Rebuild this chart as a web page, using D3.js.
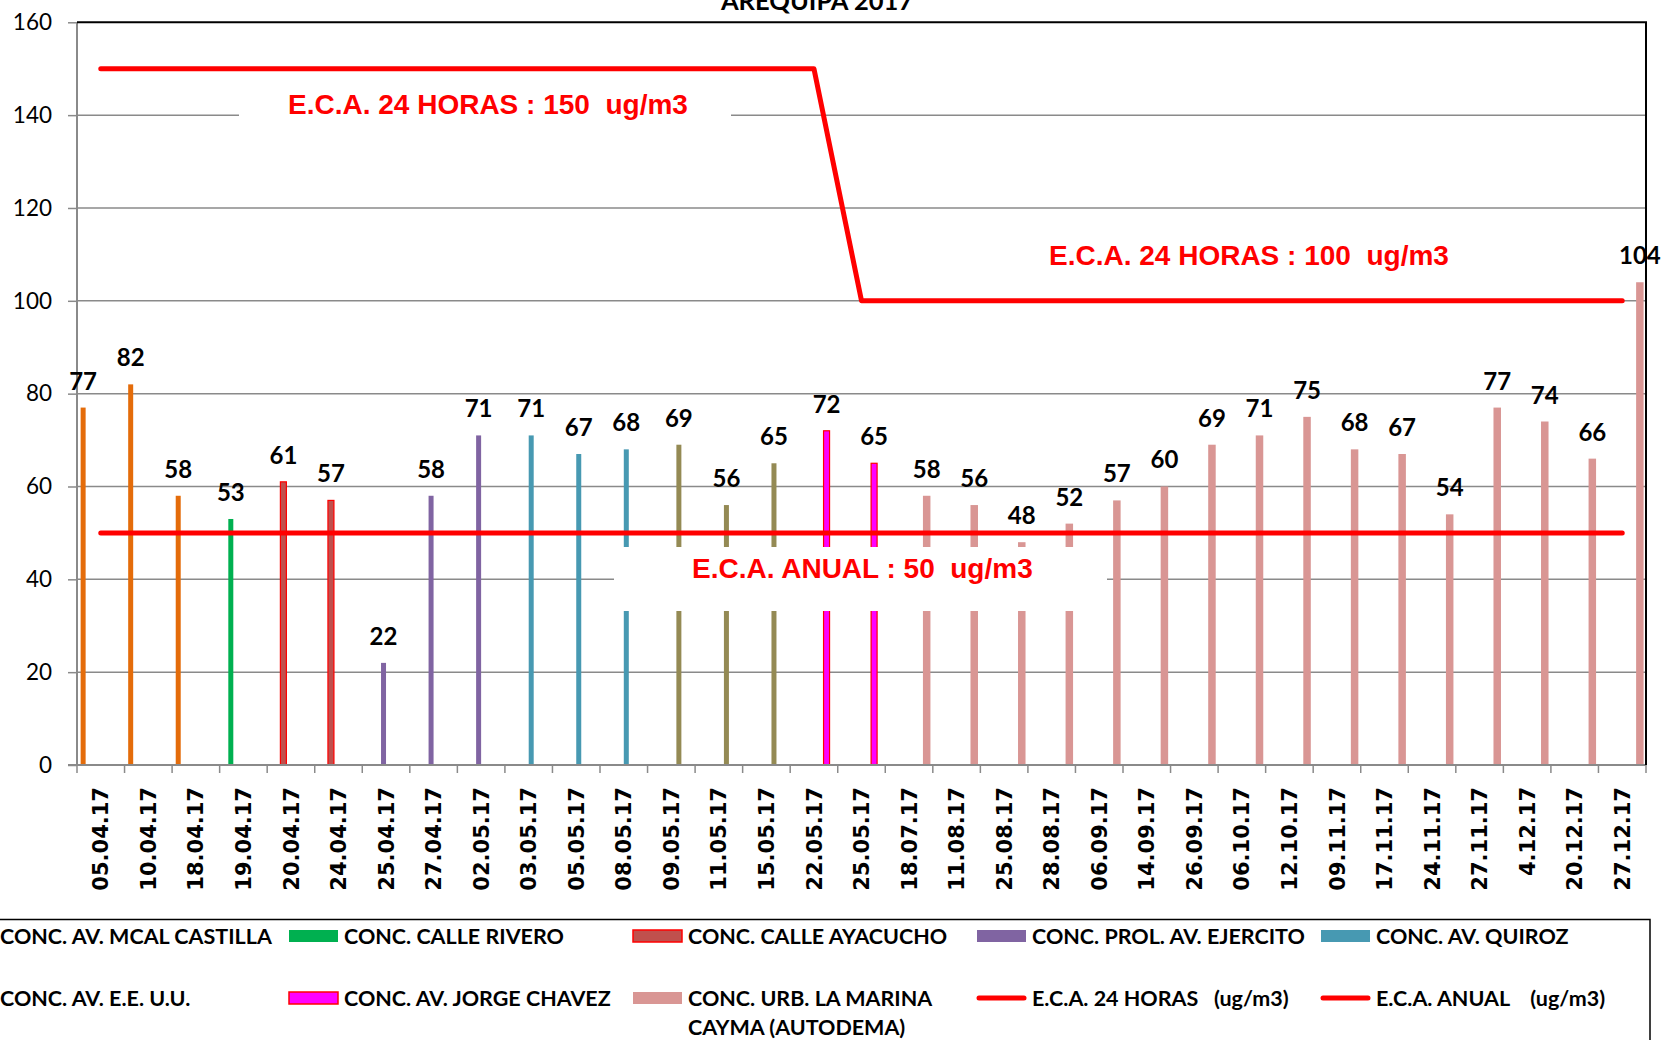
<!DOCTYPE html>
<meta charset="utf-8">
<script src="https://d3js.org/d3.v7.min.js"></script>
<title>PM10 Arequipa 2017</title>
<style>

body {
  margin: 0;
  background: #fff;
}

svg {
  display: block;
  font-family: Lato, sans-serif;
}

</style>
<svg width="1661" height="1040"></svg>
<script>

// fechas de monitoreo
var dates = ["05.04.17", "10.04.17", "18.04.17", "19.04.17", "20.04.17", "24.04.17", "25.04.17",
  "27.04.17", "02.05.17", "03.05.17", "05.05.17", "08.05.17", "09.05.17", "11.05.17", "15.05.17",
  "22.05.17", "25.05.17", "18.07.17", "11.08.17", "25.08.17", "28.08.17", "06.09.17", "14.09.17",
  "26.09.17", "06.10.17", "12.10.17", "09.11.17", "17.11.17", "24.11.17", "27.11.17", "4.12.17",
  "20.12.17", "27.12.17"];

// concentracion (ug/m3)
var values = [77, 82, 58, 53, 61, 57, 22, 58, 71, 71, 67, 68, 69, 56, 65, 72, 65,
  58, 56, 48, 52, 57, 60, 69, 71, 75, 68, 67, 54, 77, 74, 66, 104];

var stations = ["CONC. AV. MCAL CASTILLA", "CONC. CALLE RIVERO", "CONC. CALLE AYACUCHO",
  "CONC. PROL. AV. EJERCITO", "CONC. AV. QUIROZ", "CONC. AV. E.E. U.U.",
  "CONC. AV. JORGE CHAVEZ", "CONC. URB. LA MARINA CAYMA (AUTODEMA)"];

// estacion de cada fecha (indice en stations)
var stationOf = [0, 0, 0, 1, 2, 2, 3, 3, 3, 4, 4, 4, 5, 5, 5, 6, 6,
  7, 7, 7, 7, 7, 7, 7, 7, 7, 7, 7, 7, 7, 7, 7, 7];

var eca24 = [150, 150, 150, 150, 150, 150, 150, 150, 150, 150, 150, 150, 150, 150, 150, 150,
  100, 100, 100, 100, 100, 100, 100, 100, 100, 100, 100, 100, 100, 100, 100, 100, 100];

var ecaAnual = [50, 50, 50, 50, 50, 50, 50, 50, 50, 50, 50, 50, 50, 50, 50, 50, 50,
  50, 50, 50, 50, 50, 50, 50, 50, 50, 50, 50, 50, 50, 50, 50, 50];

var yTicks = [0, 20, 40, 60, 80, 100, 120, 140, 160];

var fills = ["#E46C0A", "#00B050", "#C0504D", "#8064A2", "#4799B2", "#948A54", "#FF00FF", "#D99694"];
var strokes = [null, null, "#FF0000", null, null, null, "#FF0000", null];
var barW = [5, 5, 6, 5, 5, 5, 6, 7.5];

var svg = d3.select("svg");
var pL = 77, pR = 1646, pT = 22.3, pB = 765;

var x = d3.scaleBand().domain(dates).range([pL, pR]);
var xs = d3.scaleBand().domain(d3.range(stations.length)).range([0, x.bandwidth()]).paddingOuter(0.717);
var y = d3.scaleLinear().domain([0, 160]).range([pB, pT]);
var cx = d => x(d) + x.bandwidth() / 2;
var bx = (d, i) => x(d) + xs(stationOf[i]) + xs.bandwidth() / 2;

// title (cortado arriba)
svg.append("text")
    .attr("x", 817).attr("y", 10)
    .attr("text-anchor", "middle")
    .attr("font-weight", 700)
    .attr("font-size", 25.5)
    .text("AREQUIPA 2017");

// gridlines
svg.append("g")
    .attr("stroke", "#8a8a8a")
    .attr("stroke-width", 1.5)
  .selectAll("line")
  .data(yTicks.slice(1, -1))
  .join("line")
    .attr("x1", pL).attr("x2", pR)
    .attr("y1", d => y(d)).attr("y2", d => y(d));

// y axis
var yAxis = svg.append("g")
    .attr("transform", `translate(${pL},0)`)
    .call(d3.axisLeft(y).tickValues(yTicks).tickSize(9).tickPadding(16));
yAxis.select(".domain").remove();
yAxis.selectAll(".tick line").attr("stroke", "#8a8a8a").attr("stroke-width", 1.5);
yAxis.selectAll(".tick text")
    .attr("font-family", "Lato, sans-serif")
    .attr("font-size", 22.5)
    .attr("fill", "#000");

// bars
svg.append("g")
  .selectAll("rect")
  .data(dates)
  .join("rect")
    .attr("x", (d, i) => bx(d, i) - barW[stationOf[i]] / 2)
    .attr("width", (d, i) => barW[stationOf[i]])
    .attr("y", (d, i) => y(values[i]))
    .attr("height", (d, i) => y(0) - y(values[i]))
    .attr("fill", (d, i) => fills[stationOf[i]])
    .attr("stroke", (d, i) => strokes[stationOf[i]])
    .attr("stroke-width", 1.2);

// cajas blancas de los rotulos
svg.append("rect").attr("x", 239).attr("y", 82).attr("width", 492).attr("height", 52).attr("fill", "#fff");
svg.append("rect").attr("x", 614).attr("y", 547).attr("width", 493).attr("height", 64).attr("fill", "#fff");

// axis lines
svg.append("line")
    .attr("x1", pL).attr("x2", pL).attr("y1", pT).attr("y2", pB)
    .attr("stroke", "#8a8a8a").attr("stroke-width", 2);
svg.append("line")
    .attr("x1", pL - 9).attr("x2", pR).attr("y1", pB).attr("y2", pB)
    .attr("stroke", "#8a8a8a").attr("stroke-width", 2);

// x ticks at category edges
svg.append("g")
    .attr("stroke", "#8a8a8a")
    .attr("stroke-width", 1.5)
  .selectAll("line")
  .data(dates.map(d => x(d)).concat([pR]))
  .join("line")
    .attr("x1", d => d).attr("x2", d => d)
    .attr("y1", pB).attr("y2", pB + 8);

// x labels
svg.append("g")
  .selectAll("text")
  .data(dates)
  .join("text")
    .attr("transform", d => `translate(${cx(d)},787) rotate(-90)`)
    .attr("text-anchor", "end")
    .attr("dy", "0.36em")
    .attr("font-family", "'DejaVu Sans', sans-serif")
    .attr("font-weight", 700)
    .attr("font-size", 21)
    .text(d => d);

// lineas ECA
var line = d3.line().x((d, i) => cx(dates[i])).y(d => y(d));
[eca24, ecaAnual].forEach(function(s) {
  svg.append("path")
      .datum(s)
      .attr("d", line)
      .attr("fill", "none")
      .attr("stroke", "#FF0000")
      .attr("stroke-width", 5)
      .attr("stroke-linecap", "round")
      .attr("stroke-linejoin", "round");
});

// valores
svg.append("g")
  .selectAll("text")
  .data(dates)
  .join("text")
    .attr("x", (d, i) => bx(d, i))
    .attr("y", (d, i) => y(values[i]) - 18)
    .attr("text-anchor", "middle")
    .attr("font-weight", 700)
    .attr("font-size", 24)
    .text((d, i) => values[i]);

// rotulos ECA
var ecaText = [
  {t: "E.C.A. 24 HORAS : 150  ug/m3", x: 288, y: 114},
  {t: "E.C.A. 24 HORAS : 100  ug/m3", x: 1049, y: 265},
  {t: "E.C.A. ANUAL : 50  ug/m3", x: 692, y: 578}
];
svg.append("g")
  .selectAll("text")
  .data(ecaText)
  .join("text")
    .attr("x", d => d.x).attr("y", d => d.y)
    .attr("xml:space", "preserve")
    .style("white-space", "pre")
    .attr("font-family", "'Liberation Sans', Arial, sans-serif")
    .attr("font-weight", 700)
    .attr("font-size", 28)
    .attr("fill", "#FF0000")
    .text(d => d.t);

// marco del area de trazado
svg.append("path")
    .attr("d", `M${pL},${pT}H${pR}V${pB}`)
    .attr("fill", "none")
    .attr("stroke", "#000")
    .attr("stroke-width", 2);

// leyenda
svg.append("rect")
    .attr("x", -5).attr("y", 919.5).attr("width", 1655).attr("height", 200)
    .attr("fill", "none").attr("stroke", "#000").attr("stroke-width", 1.5);

var legendItems = stations.map((s, i) => ({label: s, i: i, kind: "rect"}))
  .concat([{label: "E.C.A. 24 HORAS   (ug/m3)", kind: "line"}, {label: "E.C.A. ANUAL    (ug/m3)", kind: "line"}]);
var colX = [-56, 288, 632, 976, 1320];
var rowY = [936, 998];

var leg = svg.append("g")
  .selectAll("g")
  .data(legendItems)
  .join("g")
    .attr("transform", (d, k) => `translate(${colX[k % 5]},${rowY[Math.floor(k / 5)]})`);

leg.filter(d => d.kind == "rect").append("rect")
    .attr("x", 1).attr("y", -6).attr("width", 49).attr("height", 12)
    .attr("fill", d => fills[d.i])
    .attr("stroke", d => strokes[d.i])
    .attr("stroke-width", 1.5);

leg.filter(d => d.kind == "line").append("line")
    .attr("x1", 3).attr("x2", 48)
    .attr("stroke", "#FF0000").attr("stroke-width", 5).attr("stroke-linecap", "round");

leg.append("text")
    .attr("x", 56)
    .attr("dy", "0.35em")
    .attr("xml:space", "preserve")
    .style("white-space", "pre")
    .attr("font-weight", 700)
    .attr("font-size", 21.5)
  .selectAll("tspan")
  .data(d => d.label == stations[7] ? ["CONC. URB. LA MARINA", "CAYMA (AUTODEMA)"] : [d.label])
  .join("tspan")
    .attr("x", 56)
    .attr("dy", (d, i) => i ? 29 : null)
    .text(d => d);

</script>
